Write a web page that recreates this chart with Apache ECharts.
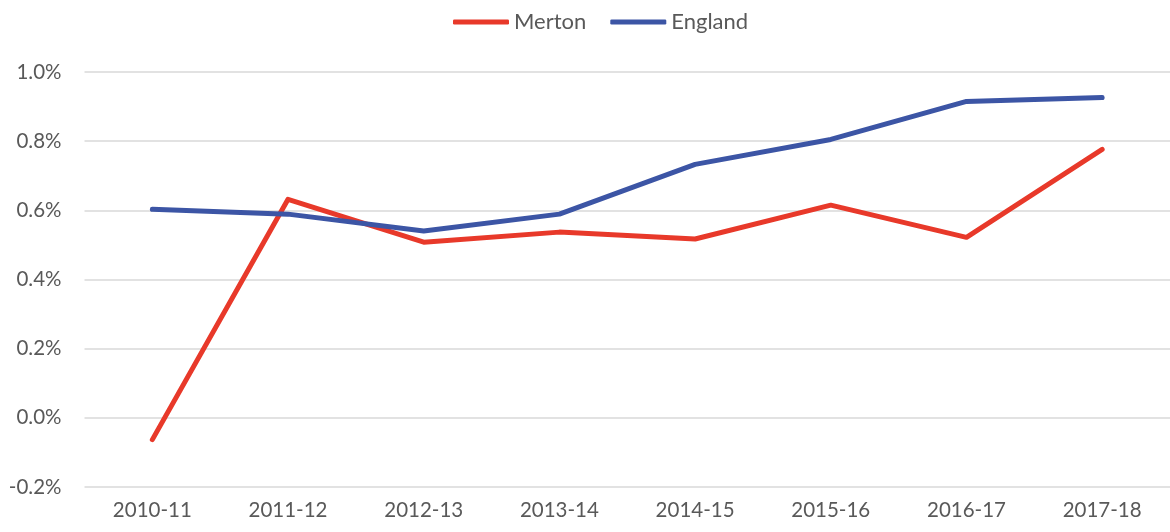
<!DOCTYPE html>
<html>
<head>
<meta charset="utf-8">
<script src="https://cdn.jsdelivr.net/npm/echarts@6/dist/echarts.min.js"></script>
<style>
  html, body { margin: 0; padding: 0; background: #fff; }
  #chart { width: 1170px; height: 532px; }
</style>
</head>
<body>
<div id="chart"></div>
<script>
  const years = ["2010-11", "2011-12", "2012-13", "2013-14", "2014-15", "2015-16", "2016-17", "2017-18"];
  const merton = [-0.063, 0.632, 0.508, 0.537, 0.517, 0.615, 0.522, 0.776];
  const england = [0.603, 0.589, 0.540, 0.589, 0.733, 0.805, 0.915, 0.926];

  const font = "Lato, 'Open Sans', sans-serif";
  const txt = "#595959";

  const options = {
    animation: false,
    legend: {
      top: 6,
      left: 448,
      itemWidth: 56,
      itemHeight: 5,
      itemGap: 24,
      icon: "roundRect",
      textStyle: { fontFamily: font, fontSize: 22, color: txt },
      data: ["Merton", "England"],
    },
    grid: {
      left: 84.5,
      width: 1096,
      top: 72,
      bottom: 45,
    },
    xAxis: {
      type: "category",
      data: years,
      boundaryGap: true,
      axisLine: { show: false },
      axisTick: { show: false },
      axisLabel: { fontFamily: font, fontSize: 20.5, color: txt, margin: 13 },
    },
    yAxis: {
      type: "value",
      min: -0.2,
      max: 1.0,
      interval: 0.2,
      axisLine: { show: false },
      axisTick: { show: false },
      splitLine: { lineStyle: { color: "#d9d9d9", width: 1.5 } },
      axisLabel: {
        fontFamily: font, fontSize: 20.5, color: txt, margin: 23,
        formatter: (v) => v.toFixed(1) + "%",
      },
    },
    series: [
      {
        name: "Merton",
        type: "line",
        data: merton,
        symbol: "none",
        lineStyle: { width: 5, color: "#E8392A", cap: "round", join: "round" },
        itemStyle: { color: "#E8392A" },
      },
      {
        name: "England",
        type: "line",
        data: england,
        symbol: "none",
        lineStyle: { width: 5, color: "#3C55A5", cap: "round", join: "round" },
        itemStyle: { color: "#3C55A5" },
      },
    ],
  };

  const myChart = echarts.init(document.getElementById("chart"));
  myChart.setOption(options);
  window.addEventListener("resize", () => myChart.resize(), false);
</script>
</body>
</html>
